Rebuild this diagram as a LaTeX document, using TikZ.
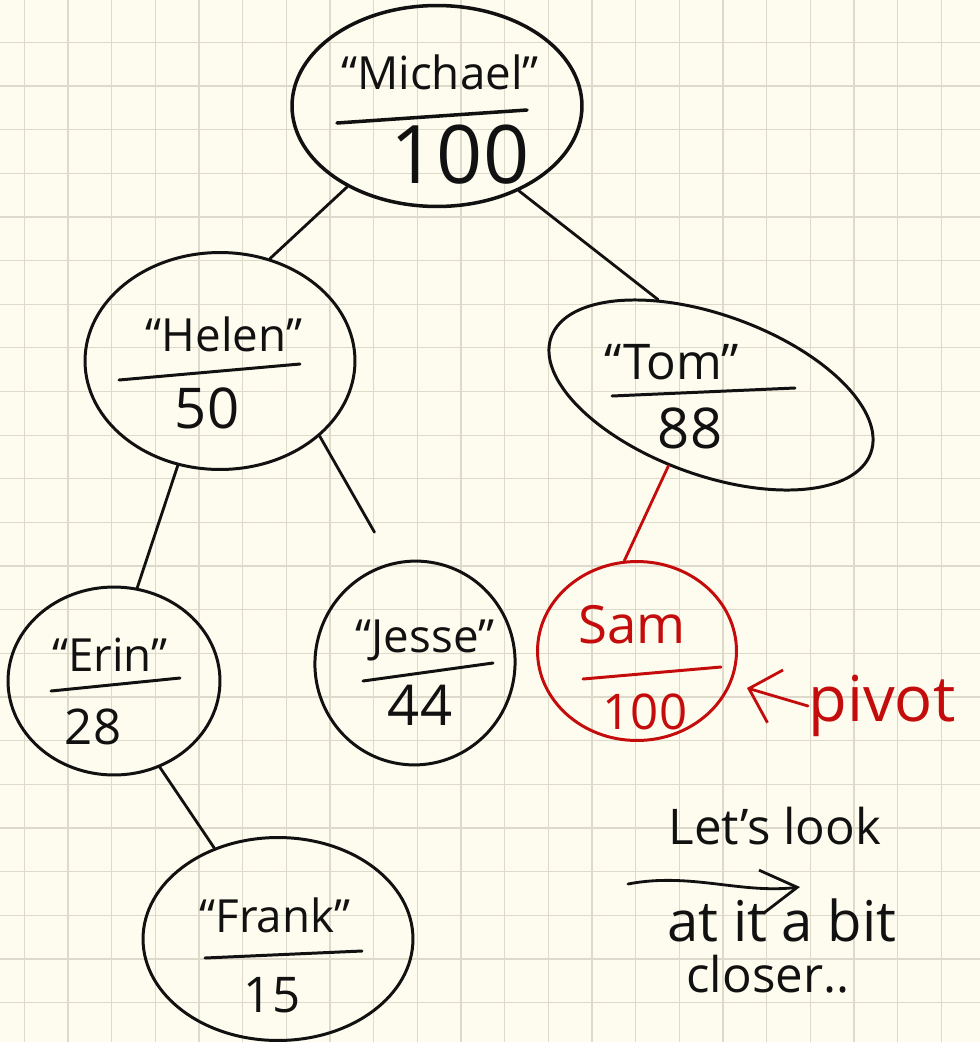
\documentclass[tikz,border=0pt]{standalone}
\usepackage{fontspec}
\setmainfont{Open Sans}
\usepackage{tikz}
\usetikzlibrary{arrows.meta, shapes.geometric}
\definecolor{paper}{HTML}{FEFCEE}
\definecolor{gridline}{HTML}{DDDACB}
\definecolor{ink}{HTML}{111111}
\definecolor{pen}{HTML}{C40C0C}

\begin{document}
\begin{tikzpicture}[
  x=0.02cm, y=-0.02cm,
  >=Stealth,
  person/.style={
    ellipse, draw=ink, line width=1.7pt, inner sep=0pt
  },
  namelabel/.style={
    text=ink, inner sep=0pt, font=\fontsize{26}{28}\selectfont
  },
  keylabel/.style={
    text=ink, inner sep=0pt, font=\fontsize{32}{34}\selectfont
  },
  divider/.style={draw=ink, line width=1.7pt, line cap=round},
  edge/.style={draw=ink, line width=1.6pt, line cap=round},
  note/.style={text=ink, inner sep=0pt, font=\fontsize{28}{30}\selectfont},
]

% Paper and grid
\useasboundingbox (0,0) rectangle (980,1042);
\fill[paper] (0,0) rectangle (980,1042);
\foreach \i in {0,...,22}
  \draw[gridline, line width=0.7pt] ({24.3+43.67*\i},0) -- ({24.3+43.67*\i},1042);
\foreach \j in {-1,...,23}
  \draw[gridline, line width=0.7pt] (0,{42.3+43.65*\j}) -- (980,{42.3+43.65*\j});

% Root
\node[person, line width=2pt, minimum width=5.8cm, minimum height=4.02cm] (michael) at (437,106) {};
\node[namelabel] (michael-name) at (440,72) {``Michael''};
\draw[divider, line width=2pt] (337,123) -- (527,110);
\node[keylabel, font=\fontsize{46}{48}\selectfont] (michael-key) at (460,155) {100};

% Left subtree
\node[person, minimum width=5.4cm, minimum height=4.34cm] (helen) at (220,361) {};
\node[namelabel] (helen-name) at (224,334) {``Helen''};
\draw[divider] (119,380) -- (300,364);
\node[keylabel] (helen-key) at (207,408) {50};

\node[person, minimum width=4.24cm, minimum height=3.76cm] (erin) at (114,681) {};
\node[namelabel] (erin-name) at (110,655) {``Erin''};
\draw[divider] (51,691) -- (180,678);
\node[keylabel, font=\fontsize{28}{30}\selectfont] (erin-key) at (93,727) {28};

\node[person, rotate=-12, minimum width=4.0cm, minimum height=4.08cm] (jesse) at (415,663) {};
\node[namelabel] (jesse-name) at (425,640) {``Jesse''};
\draw[divider] (363,681) -- (493,663);
\node[keylabel] (jesse-key) at (420,705) {44};

\node[person, minimum width=5.4cm, minimum height=4.06cm] (frank) at (278,939) {};
\node[namelabel] (frank-name) at (275,915) {``Frank''};
\draw[divider] (205,958) -- (362,951);
\node[keylabel, font=\fontsize{28}{30}\selectfont] (frank-key) at (272,995) {15};

% Right subtree
\node[person, rotate=-20, minimum width=6.8cm, minimum height=3.2cm] (tom) at (711,395) {};
\node[namelabel, font=\fontsize{28}{30}\selectfont] (tom-name) at (672,362) {``Tom''};
\draw[divider] (612,396) -- (795,388);
\node[keylabel] (tom-key) at (690,428) {88};

\node[person, draw=pen, minimum width=3.98cm, minimum height=3.58cm] (sam) at (637,651) {};
\node[namelabel, text=pen, font=\fontsize{30}{32}\selectfont] (sam-name) at (632,625) {Sam};
\draw[divider, draw=pen] (583,679) -- (721,667);
\node[keylabel, text=pen, font=\fontsize{28}{30}\selectfont] (sam-key) at (645,712) {100};

% Tree edges
\draw[edge] (michael.222) -- (helen.64);
\draw[edge] (michael.314) -- (tom.139);
\draw[edge] (helen.248) -- (erin.76);
\draw[edge, shorten >=0.7cm] (helen.323) -- (jesse.115);
\draw[edge] (erin.298) -- (frank.125);
\draw[edge, draw=pen] (tom.259) -- (sam.98);

% Pivot marker
\node[note, text=pen, font=\fontsize{36}{38}\selectfont, anchor=west] (pivot) at (808,706) {pivot};
\coordinate (pivot-tip) at (747,688);
\draw[edge, draw=pen, -{Straight Barb[length=0.55cm, width=1.1cm, line width=1.6pt]}] (pivot.west) -- (pivot-tip);

% Side note
\node[note] (look) at (775,826) {Let's look};
\node[note, font=\fontsize{32}{34}\selectfont] (look-at) at (782,920) {at it a bit};
\node[note] (look-closer) at (768,974) {closer..};
\coordinate (look-from) at (628,884);
\coordinate (look-to) at (800,887);
\draw[edge, -{Straight Barb[length=0.72cm, width=0.86cm, line width=1.6pt]}]
  (look-from) .. controls (690,872) and (740,894) .. (look-to);

\end{tikzpicture}
\end{document}
